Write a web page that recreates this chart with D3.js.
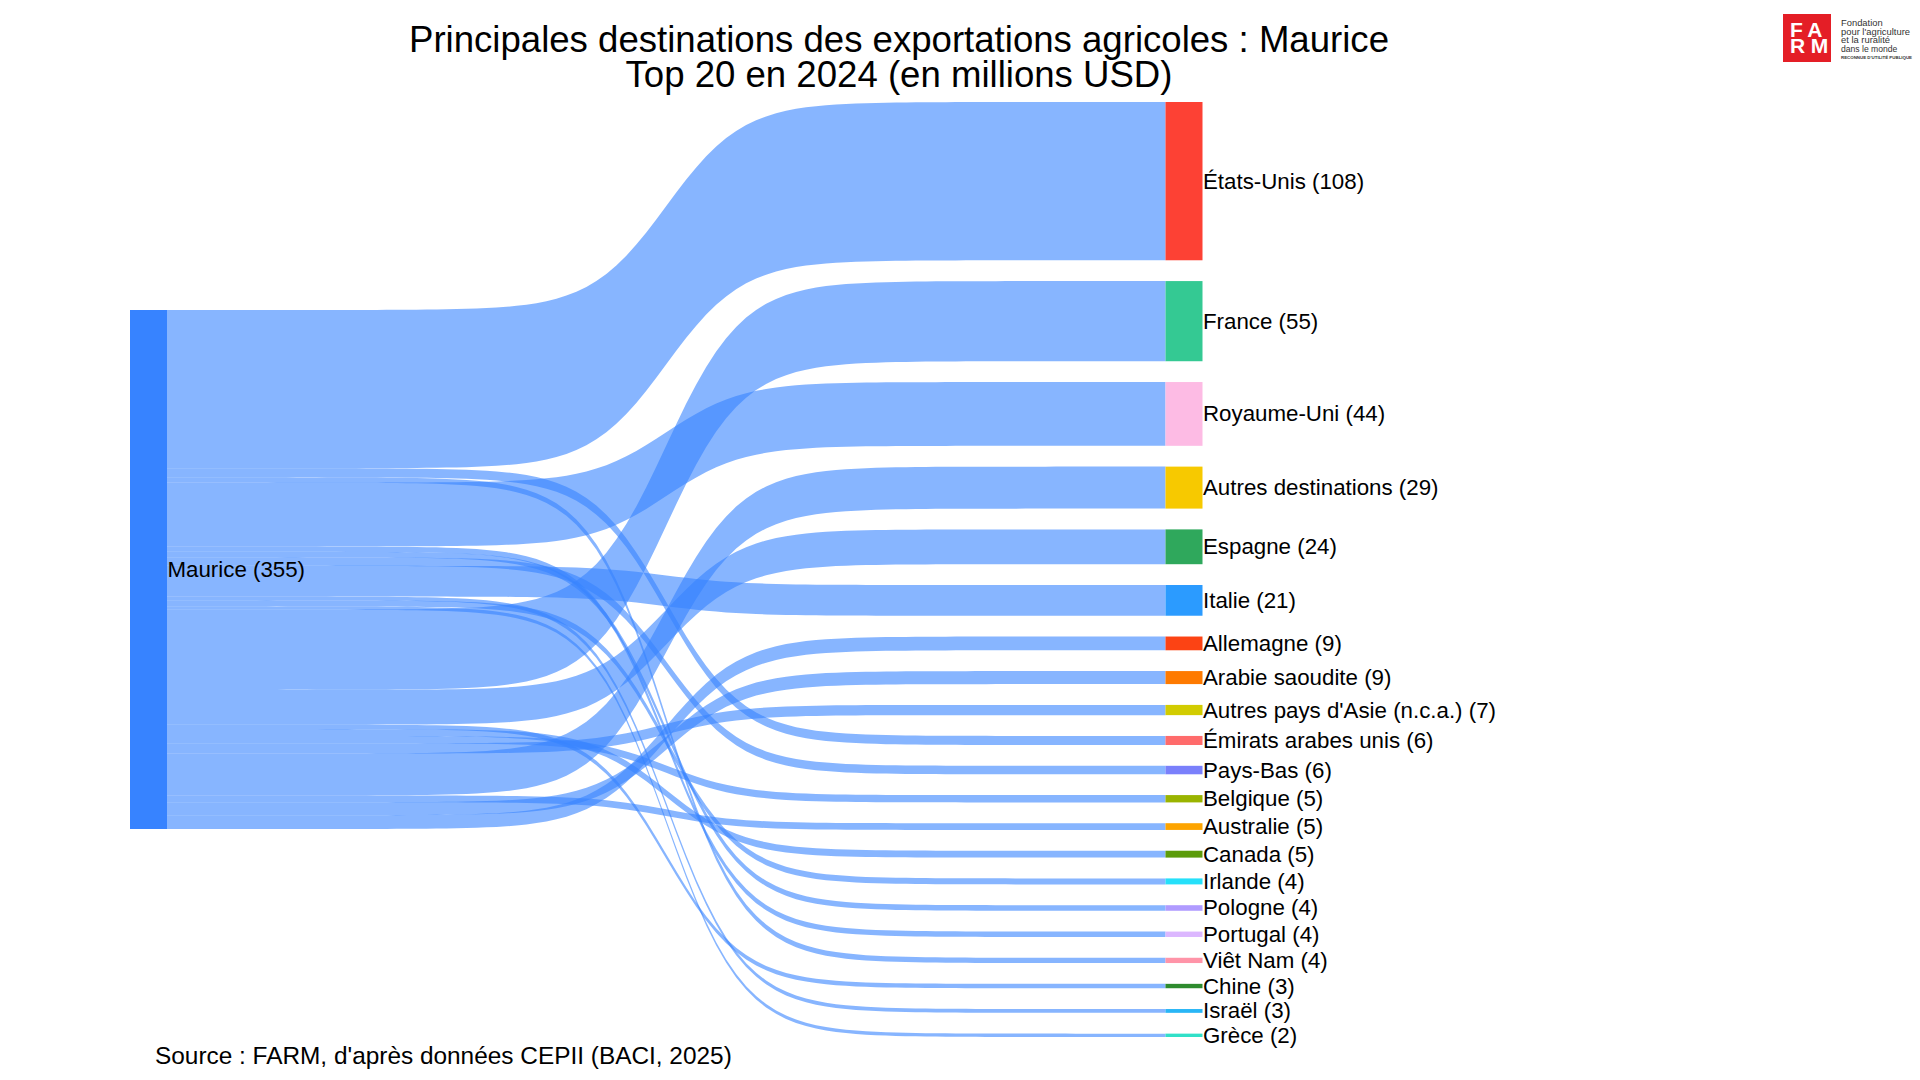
<!DOCTYPE html>
<html>
<head>
<meta charset="utf-8">
<script src="https://cdn.jsdelivr.net/npm/d3@7"></script>
<style>
  html, body { margin: 0; padding: 0; background: #fff; }
  svg { display: block; font-family: "Liberation Sans", Arial, sans-serif; }
</style>
</head>
<body>
<svg id="chart"></svg>
<script>
const titleLines = ["Principales destinations des exportations agricoles : Maurice", "Top 20 en 2024 (en millions USD)"];
const sourceNote = "Source : FARM, d'après données CEPII (BACI, 2025)";
const origin = "Maurice";

const destinations = [
  "États-Unis", "France", "Royaume-Uni", "Autres destinations", "Espagne", "Italie",
  "Allemagne", "Arabie saoudite", "Autres pays d'Asie (n.c.a.)", "Émirats arabes unis",
  "Pays-Bas", "Belgique", "Australie", "Canada", "Irlande", "Pologne", "Portugal",
  "Viêt Nam", "Chine", "Israël", "Grèce"
];
const exportValues = [
  108.2, 54.8, 43.6, 28.7, 23.8, 21.0,
  9.4, 8.9, 7.0, 6.2,
  5.8, 5.0, 4.6, 4.7, 4.1, 3.8, 3.7,
  3.6, 3.0, 2.6, 2.3
];

const nodeColors = [
  "#fd4134", "#34c993", "#fdbbe4", "#f7c900", "#2fa85c", "#2b9bff",
  "#fc4314", "#fe7a00", "#d2cc00", "#ff6b6b",
  "#7a80fb", "#9ab400", "#fda400", "#5c9c0a", "#25e0fa", "#b09bff", "#dcb7ff",
  "#ff94a8", "#2e8b2e", "#29b6f6", "#31e0c8"
];
const originColor = "#3783ff";
const linkColor = "rgba(55,131,255,0.6)";

const W = 1920, H = 1080;
const M = { top: 102, bottom: 1037 };
const nodeW = 37;
const gap = 20.8;
const fontLabel = 22.3;

const svg = d3.select("#chart")
  .attr("width", W)
  .attr("height", H)
  .attr("viewBox", `0 0 ${W} ${H}`);

svg.append("rect").attr("width", W).attr("height", H).attr("fill", "#fff");

const total = d3.sum(exportValues);
const n = destinations.length;

// value -> thickness
const hScale = d3.scaleLinear()
  .domain([0, total])
  .range([0, M.bottom - M.top - gap * (n - 1)]);

// column -> x
const xScale = d3.scaleLinear().domain([0, 1]).range([130, 1165.5]);

// right column nodes, stacked top to bottom
let cy = M.top;
const targets = destinations.map((name, i) => {
  const t = { name, value: exportValues[i], color: nodeColors[i], y0: cy, y1: cy + hScale(exportValues[i]) };
  cy = t.y1 + gap;
  return t;
});

// left node centred on the same extent
const mid = (M.top + M.bottom) / 2;
const src = { name: origin, value: total, y0: mid - hScale(total) / 2, y1: mid + hScale(total) / 2 };

// links leave the source in descending name order
const byName = new Map(targets.map(t => [t.name, t]));
let sy = src.y0;
const links = destinations.slice().sort(d3.descending).map(name => {
  const t = byName.get(name);
  const w = hScale(t.value);
  const l = { target: t, s0: sy, s1: sy + w, t0: t.y0, t1: t.y1 };
  sy += w;
  return l;
});

// sigmoid ribbon between the two columns
const steep = 13;
const sig = v => 1 / (1 + Math.exp(-v));
const ease = u => (sig(steep * (2 * u - 1)) - sig(-steep)) / (sig(steep) - sig(-steep));
const steps = d3.range(0, 101).map(i => i / 100);
const xLink = d3.scaleLinear().domain([0, 1]).range([xScale(0) + nodeW, xScale(1)]);

const ribbon = d3.area()
  .x(d => xLink(d.u))
  .y0(d => d.top)
  .y1(d => d.bot);

function band(l) {
  return ribbon(steps.map(u => {
    const e = ease(u);
    return { u, top: l.s0 + (l.t0 - l.s0) * e, bot: l.s1 + (l.t1 - l.s1) * e };
  }));
}

svg.append("g")
  .selectAll("path")
  .data(links)
  .join("path")
  .attr("d", band)
  .attr("fill", linkColor);

// nodes
svg.append("rect")
  .attr("x", xScale(0))
  .attr("y", src.y0)
  .attr("width", nodeW)
  .attr("height", src.y1 - src.y0)
  .attr("fill", originColor);

svg.append("g")
  .selectAll("rect")
  .data(targets)
  .join("rect")
  .attr("x", xScale(1))
  .attr("y", d => d.y0)
  .attr("width", nodeW)
  .attr("height", d => d.y1 - d.y0)
  .attr("fill", d => d.color);

// labels
svg.append("text")
  .attr("x", xScale(0) + nodeW + 0.5)
  .attr("y", (src.y0 + src.y1) / 2)
  .attr("dominant-baseline", "central")
  .attr("font-size", fontLabel)
  .attr("fill", "#000")
  .text(`${src.name} (${Math.round(src.value)})`);

svg.append("g")
  .selectAll("text")
  .data(targets)
  .join("text")
  .attr("x", xScale(1) + nodeW + 0.5)
  .attr("y", d => (d.y0 + d.y1) / 2)
  .attr("dominant-baseline", "central")
  .attr("font-size", fontLabel)
  .attr("fill", "#000")
  .text(d => `${d.name} (${Math.round(d.value)})`);

// title (two lines in one text)
svg.append("text")
  .attr("text-anchor", "middle")
  .attr("font-size", 36.6)
  .attr("fill", "#000")
  .selectAll("tspan")
  .data(titleLines)
  .join("tspan")
  .attr("x", 899)
  .attr("y", (d, i) => 51.7 + i * 35.6)
  .text(d => d);

// source
svg.append("text")
  .attr("x", 155)
  .attr("y", 1064)
  .attr("font-size", 24.4)
  .attr("fill", "#000")
  .text(sourceNote);

// FARM logo
const logo = svg.append("g");
logo.append("rect")
  .attr("x", 1783).attr("y", 14).attr("width", 48).attr("height", 48)
  .attr("fill", "#e41e26");
logo.append("text")
  .attr("font-size", 21)
  .attr("font-weight", 600)
  .attr("letter-spacing", 5.5)
  .attr("fill", "#fff")
  .selectAll("tspan")
  .data(["FA", "RM"])
  .join("tspan")
  .attr("x", 1790)
  .attr("y", (d, i) => 36.5 + i * 16.8)
  .text(d => d);

const logoLines = [
  { t: "Fondation", y: 26, s: 9.4 },
  { t: "pour l'agriculture", y: 34.6, s: 9.4 },
  { t: "et la ruralité", y: 43.2, s: 9.4 },
  { t: "dans le monde", y: 51.6, s: 8.6 },
  { t: "RECONNUE D'UTILITÉ PUBLIQUE", y: 58.6, s: 4.4, w: "bold" }
];
logo.append("text")
  .attr("fill", "#333")
  .selectAll("tspan")
  .data(logoLines)
  .join("tspan")
  .attr("x", 1841)
  .attr("y", d => d.y)
  .attr("font-size", d => d.s)
  .attr("font-weight", d => d.w || "normal")
  .text(d => d.t);
</script>
</body>
</html>
